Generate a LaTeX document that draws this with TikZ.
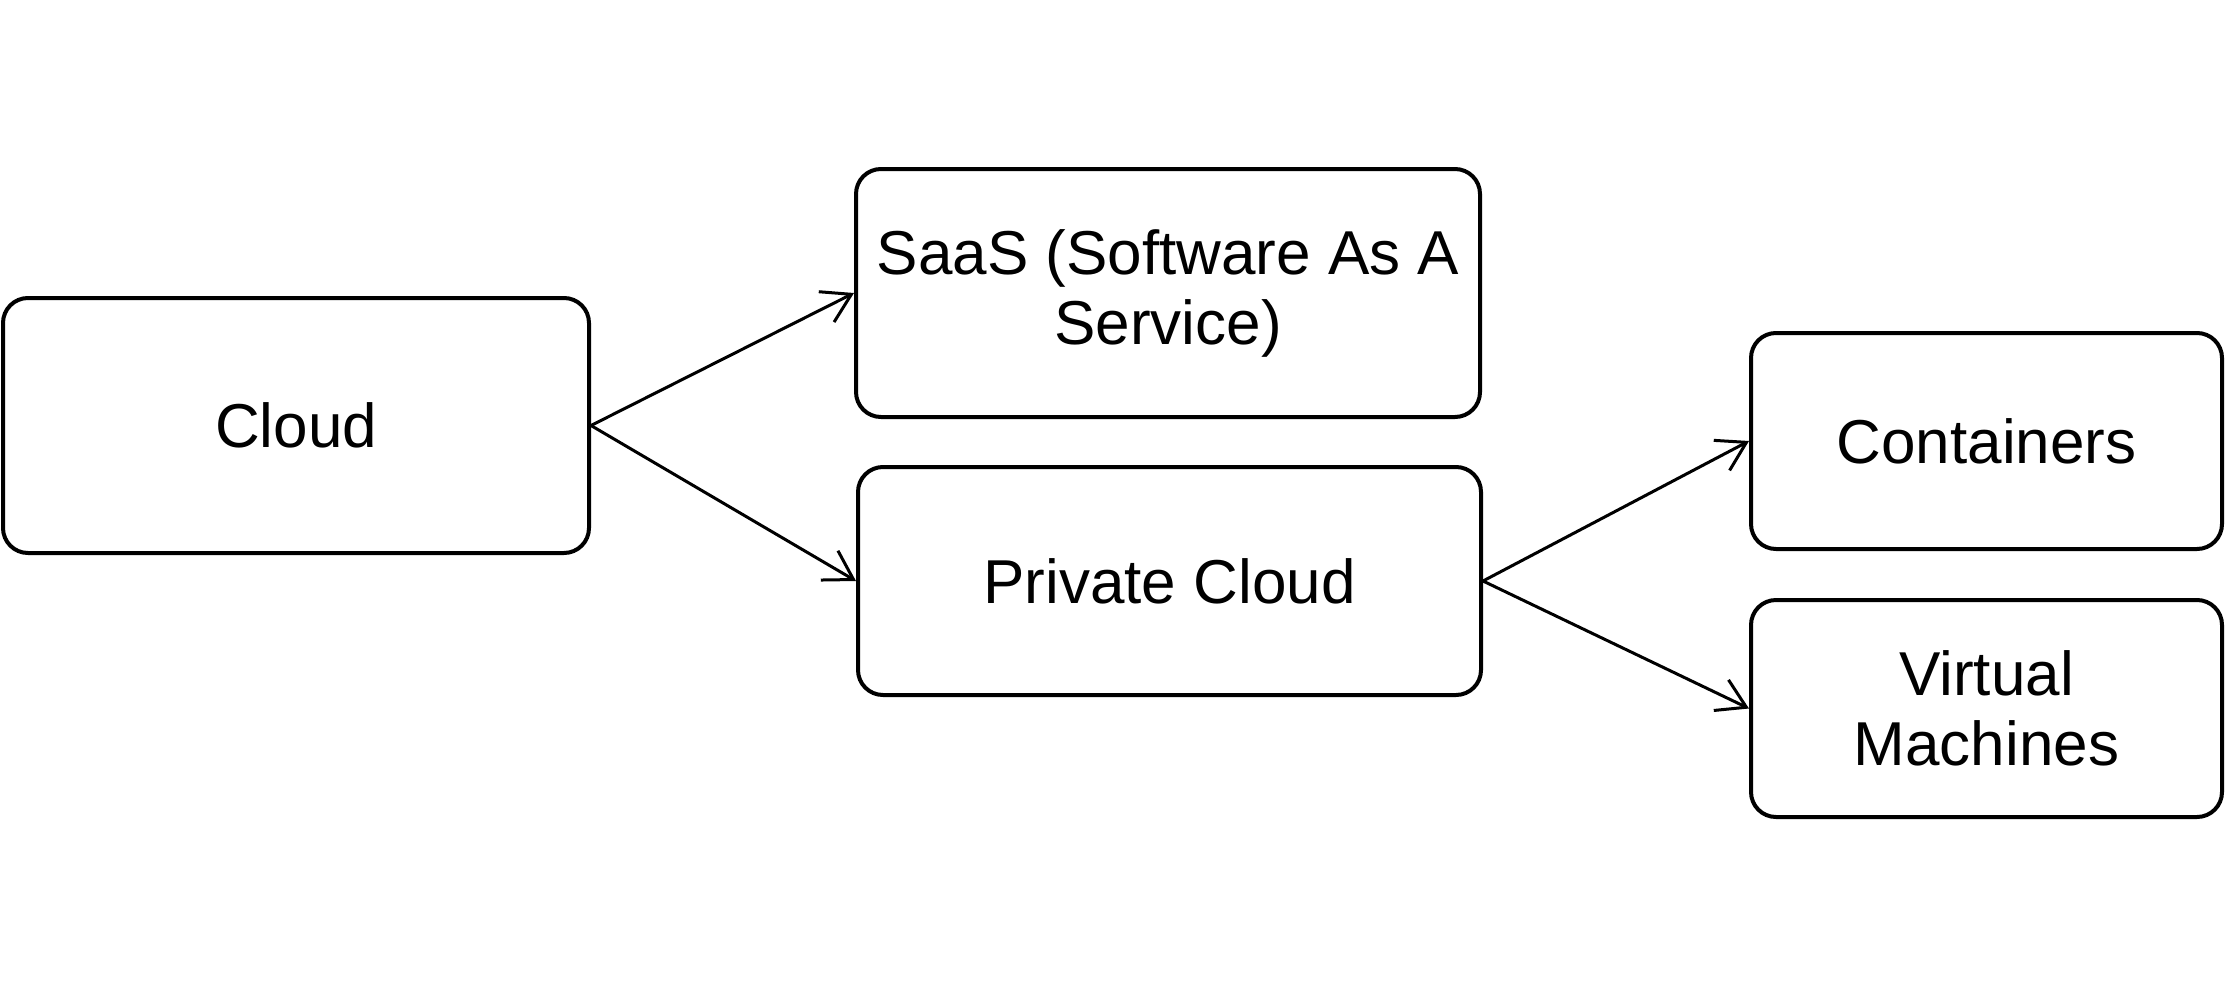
\documentclass[tikz,border=0pt]{standalone}
\usepackage{fontspec}
\setmainfont{Liberation Sans}
\usetikzlibrary{arrows.meta}
\begin{document}
\begin{tikzpicture}[x=1pt,y=-1pt,
  box/.style={draw=black, line width=4pt, rounded corners=25pt, align=center,
    font=\fontsize{62}{70}\selectfont, inner sep=0pt},
  conn/.style={draw=black, line width=3pt, -{Straight Barb[length=28pt,width=34pt,line width=3pt]}}]
\useasboundingbox (0,0) rectangle (2225,980);
\fill[white] (0,0) rectangle (2225,980);
\node[box, minimum width=586pt, minimum height=255pt] (cloud) at (296,425.5) {Cloud};
\node[box, minimum width=624pt, minimum height=248pt] (saas) at (1168,293) {SaaS (Software As A\\Service)};
\node[box, minimum width=623pt, minimum height=228pt] (priv) at (1169.5,581) {Private Cloud};
\node[box, minimum width=471pt, minimum height=216pt] (cont) at (1986.5,441) {Containers};
\node[box, minimum width=471pt, minimum height=217pt] (vm) at (1986.5,708.5) {Virtual\\Machines};
\draw[conn] (cloud.east) -- (saas.west);
\draw[conn] (cloud.east) -- (priv.west);
\draw[conn] (priv.east) -- (cont.west);
\draw[conn] (priv.east) -- (vm.west);
\end{tikzpicture}
\end{document}
